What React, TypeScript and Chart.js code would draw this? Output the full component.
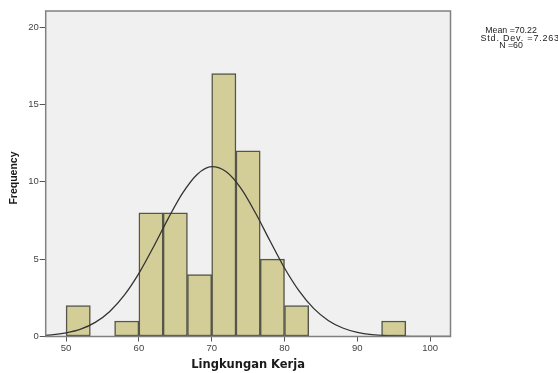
import React, { useEffect, useRef } from "react";
import { Chart, registerables } from "chart.js";

Chart.register(...registerables);

// Histogram bins (edges) and frequencies
const binEdges = [50, 53.333, 56.667, 60, 63.333, 66.667, 70, 73.333, 76.667, 80, 83.333, 86.667, 90, 93.333, 96.667];
const frequencies = [2, 0, 1, 8, 8, 4, 17, 12, 5, 2, 0, 0, 0, 1];

// Normal curve, values
const curveX = [46, 48, 50, 52, 54, 56, 58, 60, 62, 64, 66, 68, 70, 72, 74, 76, 78, 80, 82, 84, 86, 88, 90, 92, 94, 96, 98, 100, 102, 104];
const curveY = [0.04, 0.1, 0.23, 0.47, 0.91, 1.62, 2.67, 4.08, 5.79, 7.61, 9.27, 10.48, 10.98, 10.65, 9.59, 8.0, 6.19, 4.43, 2.95, 1.82, 1.04, 0.55, 0.27, 0.12, 0.05, 0.02, 0.01, 0, 0, 0];

const xTicks = [50, 60, 70, 80, 90, 100];
const yTicks = [0, 5, 10, 15, 20];
const statsLines = ["Mean =70.22", "Std. Dev. =7.263", "N =60"];
const xTitle = "Lingkungan Kerja";
const yTitle = "Frequency";

const FONT = "'Liberation Sans', Arial, sans-serif";

export default function App() {
  const ref = useRef<HTMLCanvasElement | null>(null);

  useEffect(() => {
    if (!ref.current) return;
    const barData = frequencies.map((f, i) => ({ x: (binEdges[i] + binEdges[i + 1]) / 2, y: f }));
    const lineData = curveX.map((x, i) => ({ x, y: curveY[i] }));

    const framePlugin = {
      id: "frame",
      beforeDatasetsDraw(chart: any) {
        const { ctx, chartArea: a } = chart;
        ctx.save();
        ctx.fillStyle = "#f0f0f0";
        ctx.fillRect(a.left, a.top, a.right - a.left, a.bottom - a.top);
        ctx.restore();
      },
      afterDraw(chart: any) {
        const { ctx, chartArea: a } = chart;
        ctx.save();
        ctx.strokeStyle = "#808080";
        ctx.lineWidth = 1.5;
        ctx.strokeRect(a.left, a.top, a.right - a.left, a.bottom - a.top);

        // statistics box text
        ctx.fillStyle = "#222";
        ctx.font = `8.8px ${FONT}`;
        ctx.textBaseline = "middle";
        ctx.textAlign = "center";
        ctx.fillText(statsLines[0], 511, 30.5);
        ctx.fillText(statsLines[2], 511, 46);
        ctx.textAlign = "left";
        (ctx as any).letterSpacing = "0.8px";
        ctx.font = `9px ${FONT}`;
        ctx.fillText(statsLines[1], 480.5, 38.3);
        (ctx as any).letterSpacing = "0px";

        // axis titles
        ctx.fillStyle = "#1a1a1a";
        ctx.textAlign = "center";
        ctx.textBaseline = "alphabetic";
        ctx.font = `bold 11.5px 'DejaVu Sans', sans-serif`;
        ctx.fillText(xTitle, (a.left + a.right) / 2, 368);

        ctx.translate(14.5, 178);
        ctx.rotate(-Math.PI / 2);
        ctx.textBaseline = "middle";
        ctx.font = `bold 10.5px ${FONT}`;
        ctx.fillText(yTitle, 0, 0);
        ctx.restore();
      },
    };

    const chart = new Chart(ref.current, {
      type: "bar",
      data: {
        datasets: [
          {
            type: "line",
            data: lineData,
            borderColor: "#333333",
            borderWidth: 1.3,
            pointRadius: 0,
            fill: false,
            cubicInterpolationMode: "monotone",
            order: 0,
          } as any,
          {
            type: "bar",
            data: barData,
            backgroundColor: "#d3ce98",
            borderColor: "#55554a",
            borderWidth: 1.5,
            borderSkipped: false,
            barPercentage: 1,
            categoryPercentage: 1,
            order: 1,
          } as any,
        ],
      },
      options: {
        responsive: false,
        animation: false,
        devicePixelRatio: 1,
        layout: { padding: { top: 11, right: 107.5, left: 0, bottom: 0 } },
        plugins: { legend: { display: false }, tooltip: { enabled: false } },
        scales: {
          x: {
            type: "linear",
            min: 47.2,
            max: 102.8,
            offset: false,
            grid: { offset: false, drawOnChartArea: false, drawTicks: true, tickLength: 5, color: "#555" },
            border: { display: false },
            ticks: { font: { size: 9.5, family: FONT }, color: "#444", padding: 1, maxRotation: 0, autoSkip: false },
            afterBuildTicks: (s: any) => {
              s.ticks = xTicks.map((v) => ({ value: v }));
            },
            afterFit: (s: any) => {
              s.height = 36.5;
            },
          },
          y: {
            type: "linear",
            min: 0,
            max: 21.05,
            grid: { drawOnChartArea: false, drawTicks: true, tickLength: 6, color: "#555" },
            border: { display: false },
            ticks: { font: { size: 9.5, family: FONT }, color: "#444", padding: 1 },
            afterBuildTicks: (s: any) => {
              s.ticks = yTicks.map((v) => ({ value: v }));
            },
            afterFit: (s: any) => {
              s.width = 45.7;
            },
          },
        },
      } as any,
      plugins: [framePlugin],
    });
    return () => chart.destroy();
  }, []);

  return (
    <div style={{ position: "absolute", left: 0, top: 0, width: 558, height: 373, background: "#fff" }}>
      <canvas ref={ref} width={558} height={373} />
    </div>
  );
}
